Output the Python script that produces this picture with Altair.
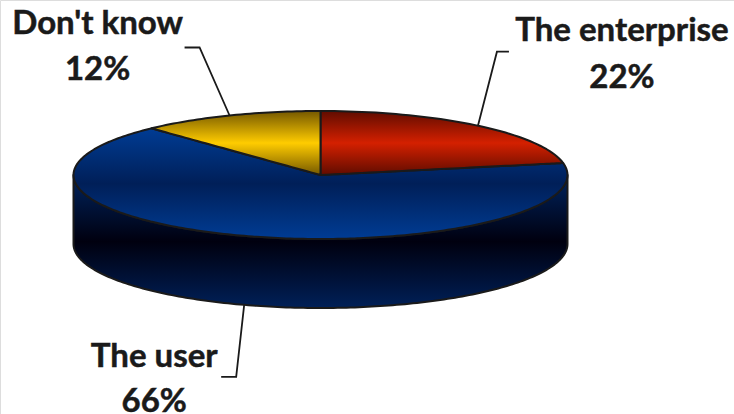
import altair as alt
import numpy as np
import pandas as pd

# Survey answers, clockwise from twelve o'clock
labels = ["The enterprise", "The user", "Don't know"]
shares = [22, 66, 12]

W, H = 734, 414
CX, CY = 320.5, 175          # pie centre on the canvas
RX, RY = 247, 64             # radii of the tilted top face
DEPTH = 69                   # height of the extruded wall

x_scale = alt.Scale(domain=[-CX, W - CX], range=[0, W], nice=False, zero=False)
# y grows upward on the chart: positive values are above the centre
y_scale = alt.Scale(domain=[CY - H, CY], range=[H, 0], nice=False, zero=False)

STROKE = "#1a1a1a"
EDGE_WIDTH = 2


def upper(x):
    return RY * np.sqrt(np.clip(1 - (x / RX) ** 2, 0, 1))


def rim(angle_deg):
    a = np.radians(angle_deg)
    return RX * np.sin(a), RY * np.cos(a)


def gradient(stops):
    return alt.Gradient(
        gradient="linear", x1=0, y1=0, x2=0, y2=1,
        stops=[alt.GradientStop(offset=o, color=c) for o, c in stops],
    )


def band(xs, top, bottom, fill):
    frame = pd.DataFrame({"x": xs, "top": top, "bottom": bottom})
    return (
        alt.Chart(frame)
        .mark_area(fill=fill, stroke=STROKE, strokeWidth=EDGE_WIDTH, strokeJoin="round", opacity=1)
        .encode(
            x=alt.X("x:Q", scale=x_scale, axis=None),
            y=alt.Y("top:Q", scale=y_scale, axis=None),
            y2="bottom:Q",
        )
    )


angles = np.cumsum([0] + shares) * 3.6
red_end_x, red_end_y = rim(angles[1])
yellow_start_x, yellow_start_y = rim(angles[2])

sweep = RX * np.sin(np.radians(np.linspace(-90, 90, 181)))

# Extruded wall below the front half of the rim
wall = band(
    sweep, -upper(sweep), -upper(sweep) - DEPTH,
    gradient([(0, "#00245f"), (0.5, "#00000f"), (1, "#002058")]),
)

# Blue slice: rim on the outside, straight edges through the centre on top
xs_blue = np.unique(np.concatenate([sweep, [yellow_start_x, 0.0, red_end_x],
                                    np.linspace(yellow_start_x, red_end_x, 5)]))
top_blue = np.where(
    xs_blue <= yellow_start_x, upper(xs_blue),
    np.where(xs_blue <= 0, yellow_start_y * xs_blue / yellow_start_x,
             np.where(xs_blue <= red_end_x, red_end_y * xs_blue / red_end_x, upper(xs_blue))),
)
blue = band(
    xs_blue, top_blue, -upper(xs_blue),
    gradient([(0, "#003c94"), (0.5, "#001f58"), (1, "#003c94")]),
)

# Red slice
xs_red = RX * np.sin(np.radians(np.linspace(0, angles[1], 50)))
red = band(
    xs_red, upper(xs_red), red_end_y * xs_red / red_end_x,
    gradient([(0, "#600c00"), (0.5, "#d42000"), (1, "#600c00")]),
)

# Yellow slice
xs_yellow = RX * np.sin(np.radians(np.linspace(angles[2], 360, 40)))
yellow = band(
    xs_yellow, upper(xs_yellow), yellow_start_y * xs_yellow / yellow_start_x,
    gradient([(0, "#755800"), (0.5, "#ffcc00"), (1, "#755800")]),
)

# Leader anchors sit on the rim at each slice's mid-angle
mids = (angles[:-1] + angles[1:]) / 2
anchors = [rim(m) for m in mids]
anchors[1] = (anchors[1][0], anchors[1][1] - DEPTH)

elbow_offsets = [(19, 74), (-8, -72), (-30, 68)]
tail_offsets = [(12, 0), (-15, 0), (-15, 0)]
text_offsets = [(144, 85), (-90, -62), (-132, 81)]
line_gaps = [47, 45, 46]

layers = [wall, blue, red, yellow]
for (ax, ay), (ex, ey), (tx, ty) in zip(anchors, elbow_offsets, tail_offsets):
    path = pd.DataFrame({
        "x": [ax, ax + ex, ax + ex + tx],
        "y": [ay, ay + ey, ay + ey + ty],
        "step": [0, 1, 2],
    })
    layers.append(
        alt.Chart(path)
        .mark_line(color=STROKE, strokeWidth=1.8)
        .encode(
            x=alt.X("x:Q", scale=x_scale, axis=None),
            y=alt.Y("y:Q", scale=y_scale, axis=None),
            order="step:Q",
        )
    )

rows = []
for name, share, (ax, ay), (dx, dy), gap in zip(labels, shares, anchors, text_offsets, line_gaps):
    rows.append({"x": ax + dx, "y": ay + dy, "text": name})
    rows.append({"x": ax + dx, "y": ay + dy - gap, "text": f"{share}%"})

layers.append(
    alt.Chart(pd.DataFrame(rows))
    .mark_text(font="Lato", fontWeight="bold", fontSize=33, color=STROKE,
               stroke=STROKE, strokeWidth=0.5,
               align="center", baseline="alphabetic")
    .encode(
        x=alt.X("x:Q", scale=x_scale, axis=None),
        y=alt.Y("y:Q", scale=y_scale, axis=None),
        text="text:N",
    )
)

chart = (
    alt.layer(*layers)
    .properties(width=W, height=H, padding=0, autosize=alt.AutoSizeParams(type="none"))
    .configure_view(stroke=None)
    .configure(background="white")
)

chart.save("out.html", embed_options={"renderer": "svg", "actions": False})
